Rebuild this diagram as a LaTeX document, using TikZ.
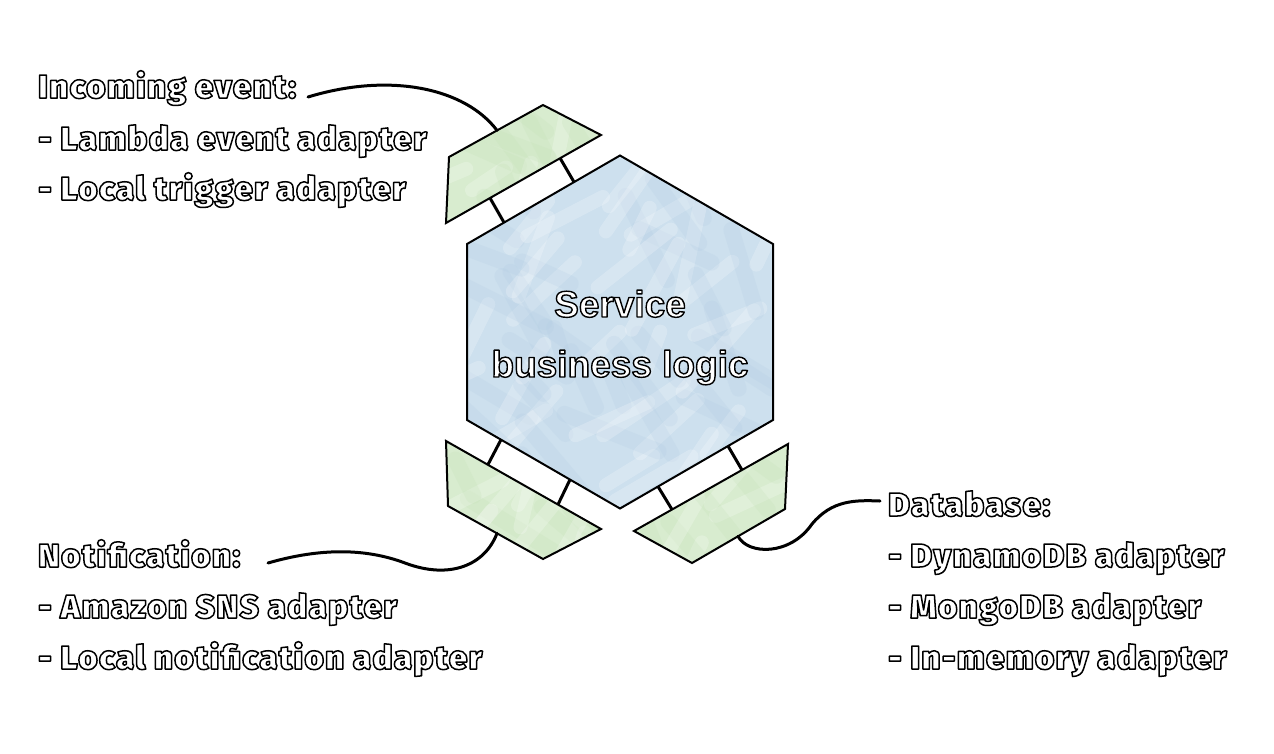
\documentclass[tikz,border=0pt]{standalone}
\usepackage{fontspec}
\IfFontExistsTF{Fira Sans Black}{%
  \newfontfamily\lblfont{Fira Sans Black}[LetterSpace=4.5]\newcommand{\lblsize}{33}}{%
  \IfFontExistsTF{Fira Sans ExtraBold}{%
    \newfontfamily\lblfont{Fira Sans ExtraBold}[LetterSpace=5.5]\newcommand{\lblsize}{33}}{%
    \IfFontExistsTF{Lato Black}{%
      \newfontfamily\lblfont{Lato Black}[LetterSpace=5]\newcommand{\lblsize}{33}}{%
      \newfontfamily\lblfont{Fira Sans}[LetterSpace=3.5,UprightFont=* Bold]\newcommand{\lblsize}{34}}}}
\newfontfamily\hexfont{Liberation Sans}
\newcommand{\olt}[2][1.5]{\textcolor{white}{\special{pdf:literal direct 0 0 0 RG #1 w 1 j 2 Tr}#2\special{pdf:literal direct 0 Tr}}}
\definecolor{hexblue}{RGB}{205,224,238}
\definecolor{hexdark}{RGB}{175,203,226}
\definecolor{adgreen}{RGB}{216,236,207}
\definecolor{addark}{RGB}{192,223,178}
% soft pencil texture: #1 x0, #2 y0, #3 width, #4 height, #5 dark colour, #6 count
\newcommand{\pencil}[6]{%
  \foreach \k in {1,...,#6}{%
    \pgfmathsetmacro{\px}{#1+#3*rnd}%
    \pgfmathsetmacro{\py}{#2+#4*rnd}%
    \pgfmathsetmacro{\pa}{100+60*rnd}%
    \pgfmathsetmacro{\pl}{40+70*rnd}%
    \draw[white, opacity=0.22, line width=14pt, line cap=round] (\px,\py) -- ++(\pa:\pl);
    \pgfmathsetmacro{\qx}{#1+#3*rnd}%
    \pgfmathsetmacro{\qy}{#2+#4*rnd}%
    \pgfmathsetmacro{\qa}{20+60*rnd}%
    \draw[#5, opacity=0.2, line width=16pt, line cap=round] (\qx,\qy) -- ++(\qa:\pl);
  }}
\begin{document}
\begin{tikzpicture}[x=1pt,y=-1pt,
  shape outline/.style={draw=black, line width=2pt, line join=miter},
  link/.style={draw=black, line width=3pt},
  wire/.style={draw=black, line width=3pt, line cap=round},
  lbl/.style={anchor=base west, inner sep=0pt, font=\lblfont\fontsize{\lblsize}{40}\selectfont},
  core/.style={anchor=base, inner sep=0pt, font=\hexfont\bfseries\fontsize{37}{44}\selectfont}]
\useasboundingbox (0,0) rectangle (1274,753);
\pgfmathsetseed{11}
% hexagon
\coordinate (h1) at (620,155.5);
\coordinate (h2) at (773,244);
\coordinate (h3) at (773,420);
\coordinate (h4) at (620,508.5);
\coordinate (h5) at (467,420);
\coordinate (h6) at (467,244);
\fill[hexblue] (h1) -- (h2) -- (h3) -- (h4) -- (h5) -- (h6) -- cycle;
\begin{scope}
  \clip (h1) -- (h2) -- (h3) -- (h4) -- (h5) -- (h6) -- cycle;
  \pencil{440}{140}{350}{400}{hexdark}{45}
\end{scope}
\draw[shape outline] (h1) -- (h2) -- (h3) -- (h4) -- (h5) -- (h6) -- cycle;
% adapters
\coordinate (a1) at (449,157); \coordinate (a2) at (543,105);
\coordinate (a3) at (601,135); \coordinate (a4) at (446,223);
\coordinate (b1) at (446,441); \coordinate (b2) at (601,529);
\coordinate (b3) at (543,559); \coordinate (b4) at (448,506);
\coordinate (c1) at (788,444); \coordinate (c2) at (785,509);
\coordinate (c3) at (692,563); \coordinate (c4) at (634,531);
\fill[adgreen] (a1) -- (a2) -- (a3) -- (a4) -- cycle;
\begin{scope}
  \clip (a1) -- (a2) -- (a3) -- (a4) -- cycle;
  \pencil{430}{90}{180}{145}{addark}{10}
\end{scope}
\draw[shape outline] (a1) -- (a2) -- (a3) -- (a4) -- cycle;
\fill[adgreen] (b1) -- (b2) -- (b3) -- (b4) -- cycle;
\begin{scope}
  \clip (b1) -- (b2) -- (b3) -- (b4) -- cycle;
  \pencil{430}{425}{180}{145}{addark}{10}
\end{scope}
\draw[shape outline] (b1) -- (b2) -- (b3) -- (b4) -- cycle;
\fill[adgreen] (c1) -- (c2) -- (c3) -- (c4) -- cycle;
\begin{scope}
  \clip (c1) -- (c2) -- (c3) -- (c4) -- cycle;
  \pencil{620}{430}{180}{145}{addark}{10}
\end{scope}
\draw[shape outline] (c1) -- (c2) -- (c3) -- (c4) -- cycle;
% links between adapters and hexagon
\coordinate (la1) at (490,198); \coordinate (lh1) at (504,222.5);
\coordinate (la2) at (560,158); \coordinate (lh2) at (574,182);
\draw[link] (la1) -- (lh1);
\draw[link] (la2) -- (lh2);
\coordinate (lb1) at (488,464.5); \coordinate (lk1) at (501,439.7);
\coordinate (lb2) at (558,504.5); \coordinate (lk2) at (570,479.6);
\draw[link] (lb1) -- (lk1);
\draw[link] (lb2) -- (lk2);
\coordinate (lc1) at (672,509.5); \coordinate (lm1) at (658,486.5);
\coordinate (lc2) at (742,470); \coordinate (lm2) at (728,446);
\draw[link] (lc1) -- (lm1);
\draw[link] (lc2) -- (lm2);
% core text
\node[core] (core1) at (620,317) {\olt[1.4]{Service}};
\node[core] (core2) at (620,377) {\olt[1.4]{business logic}};
% labels
\node[lbl] (in1) at (38,98) {\olt{Incoming event:}};
\node[lbl] (in2) at (38,150) {\olt{- Lambda event adapter}};
\node[lbl] (in3) at (38,200) {\olt{- Local trigger adapter}};
\node[lbl] (no1) at (38,567) {\olt{Notification:}};
\node[lbl] (no2) at (38,618) {\olt{- Amazon SNS adapter}};
\node[lbl] (no3) at (38,669) {\olt{- Local notification adapter}};
\node[lbl] (db1) at (888,516) {\olt{Database:}};
\node[lbl] (db2) at (888,567) {\olt{- DynamoDB adapter}};
\node[lbl] (db3) at (888,618) {\olt{- MongoDB adapter}};
\node[lbl] (db4) at (888,669) {\olt{- In-memory adapter}};
% wires
\coordinate (win) at (308,97);
\coordinate (wina) at (497,130.4);
\draw[wire] (win) .. controls (390,72) and (465,88) .. (wina);
\coordinate (wno) at (268,563);
\coordinate (wnob) at (497,533.3);
\coordinate (wnom) at (405,563);
\draw[wire] (wno) .. controls (320,548) and (365,548) .. (wnom) .. controls (450,580) and (485,565) .. (wnob);
\coordinate (wdb) at (880,501);
\coordinate (wdbc) at (738,536.3);
\coordinate (wdbm) at (812,524);
\draw[wire] (wdbc) .. controls (748,555) and (790,556) .. (wdbm) .. controls (832,500) and (855,500) .. (wdb);
\end{tikzpicture}
\end{document}
